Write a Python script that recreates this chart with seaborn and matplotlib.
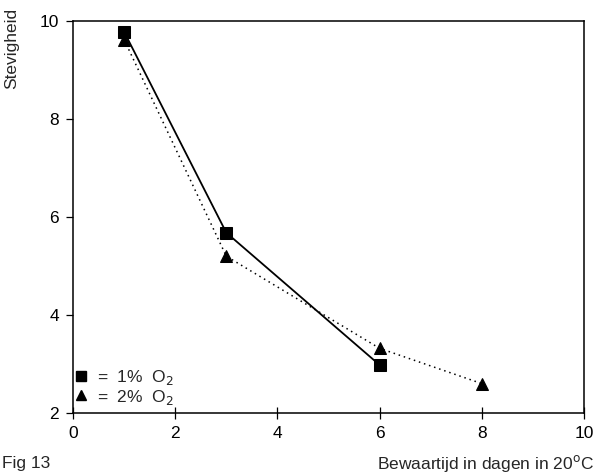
import matplotlib
matplotlib.use("Agg")
import matplotlib.pyplot as plt
import seaborn as sns
import pandas as pd
from matplotlib.lines import Line2D

days_1 = [1, 3, 6]
firm_1 = [9.78, 5.68, 2.98]
days_2 = [1, 3, 6, 8]
firm_2 = [9.62, 5.2, 3.32, 2.6]
xticks = [0, 2, 4, 6, 8, 10]
yticks = [2, 4, 6, 8, 10]

sns.set_style("ticks")
plt.rcParams['font.family'] = ['Liberation Sans', 'DejaVu Sans']

df1 = pd.DataFrame({"x": days_1, "y": firm_1})
df2 = pd.DataFrame({"x": days_2, "y": firm_2})

fig = plt.figure(figsize=(5.96, 4.73), dpi=100)
ax = fig.add_axes([73/596, 1 - 413/473, (584-73)/596, (413-21)/473])

sns.lineplot(data=df2, x="x", y="y", ax=ax, color="black", linestyle=(0, (1, 2.5)),
             linewidth=1.1, marker="^", markersize=8, markeredgecolor="black")
sns.lineplot(data=df1, x="x", y="y", ax=ax, color="black", linestyle="-",
             linewidth=1.3, marker="s", markersize=8, markeredgecolor="black")

ax.set_xlim(0, 10)
ax.set_ylim(2, 10)
ax.set_xticks(xticks)
ax.set_yticks(yticks)
ax.tick_params(axis="x", direction="inout", length=8, width=0.9, labelsize=12.5, pad=5, colors="black")
ax.tick_params(axis="y", direction="out", length=5, width=0.9, labelsize=12.5, pad=5, colors="black")
for s in ax.spines.values():
    s.set_linewidth(1.1)
    s.set_color("black")
ax.set_xlabel("")
ax.set_ylabel("Stevigheid", fontsize=12.5)
ax.yaxis.set_label_coords(-0.105, 0.93)

handles = [Line2D([], [], color="black", marker="s", linestyle="none", markersize=7),
           Line2D([], [], color="black", marker="^", linestyle="none", markersize=7)]
ax.legend(handles, ["=  1%  O$_2$", "=  2%  O$_2$"], loc="lower left",
          bbox_to_anchor=(-0.015, -0.01), frameon=False, fontsize=12.5,
          handlelength=0.6, handletextpad=0.6, labelspacing=0.05, borderaxespad=0.2)

fig.text(2/596, 1 - 463/473, "Fig 13", fontsize=12.5, ha="left", va="center")
fig.text(594/596, 1 - 463/473, "Bewaartijd in dagen in 20$^{\\mathrm{o}}$C", fontsize=12.5,
         ha="right", va="center")

fig.savefig("out.png", dpi=100)
